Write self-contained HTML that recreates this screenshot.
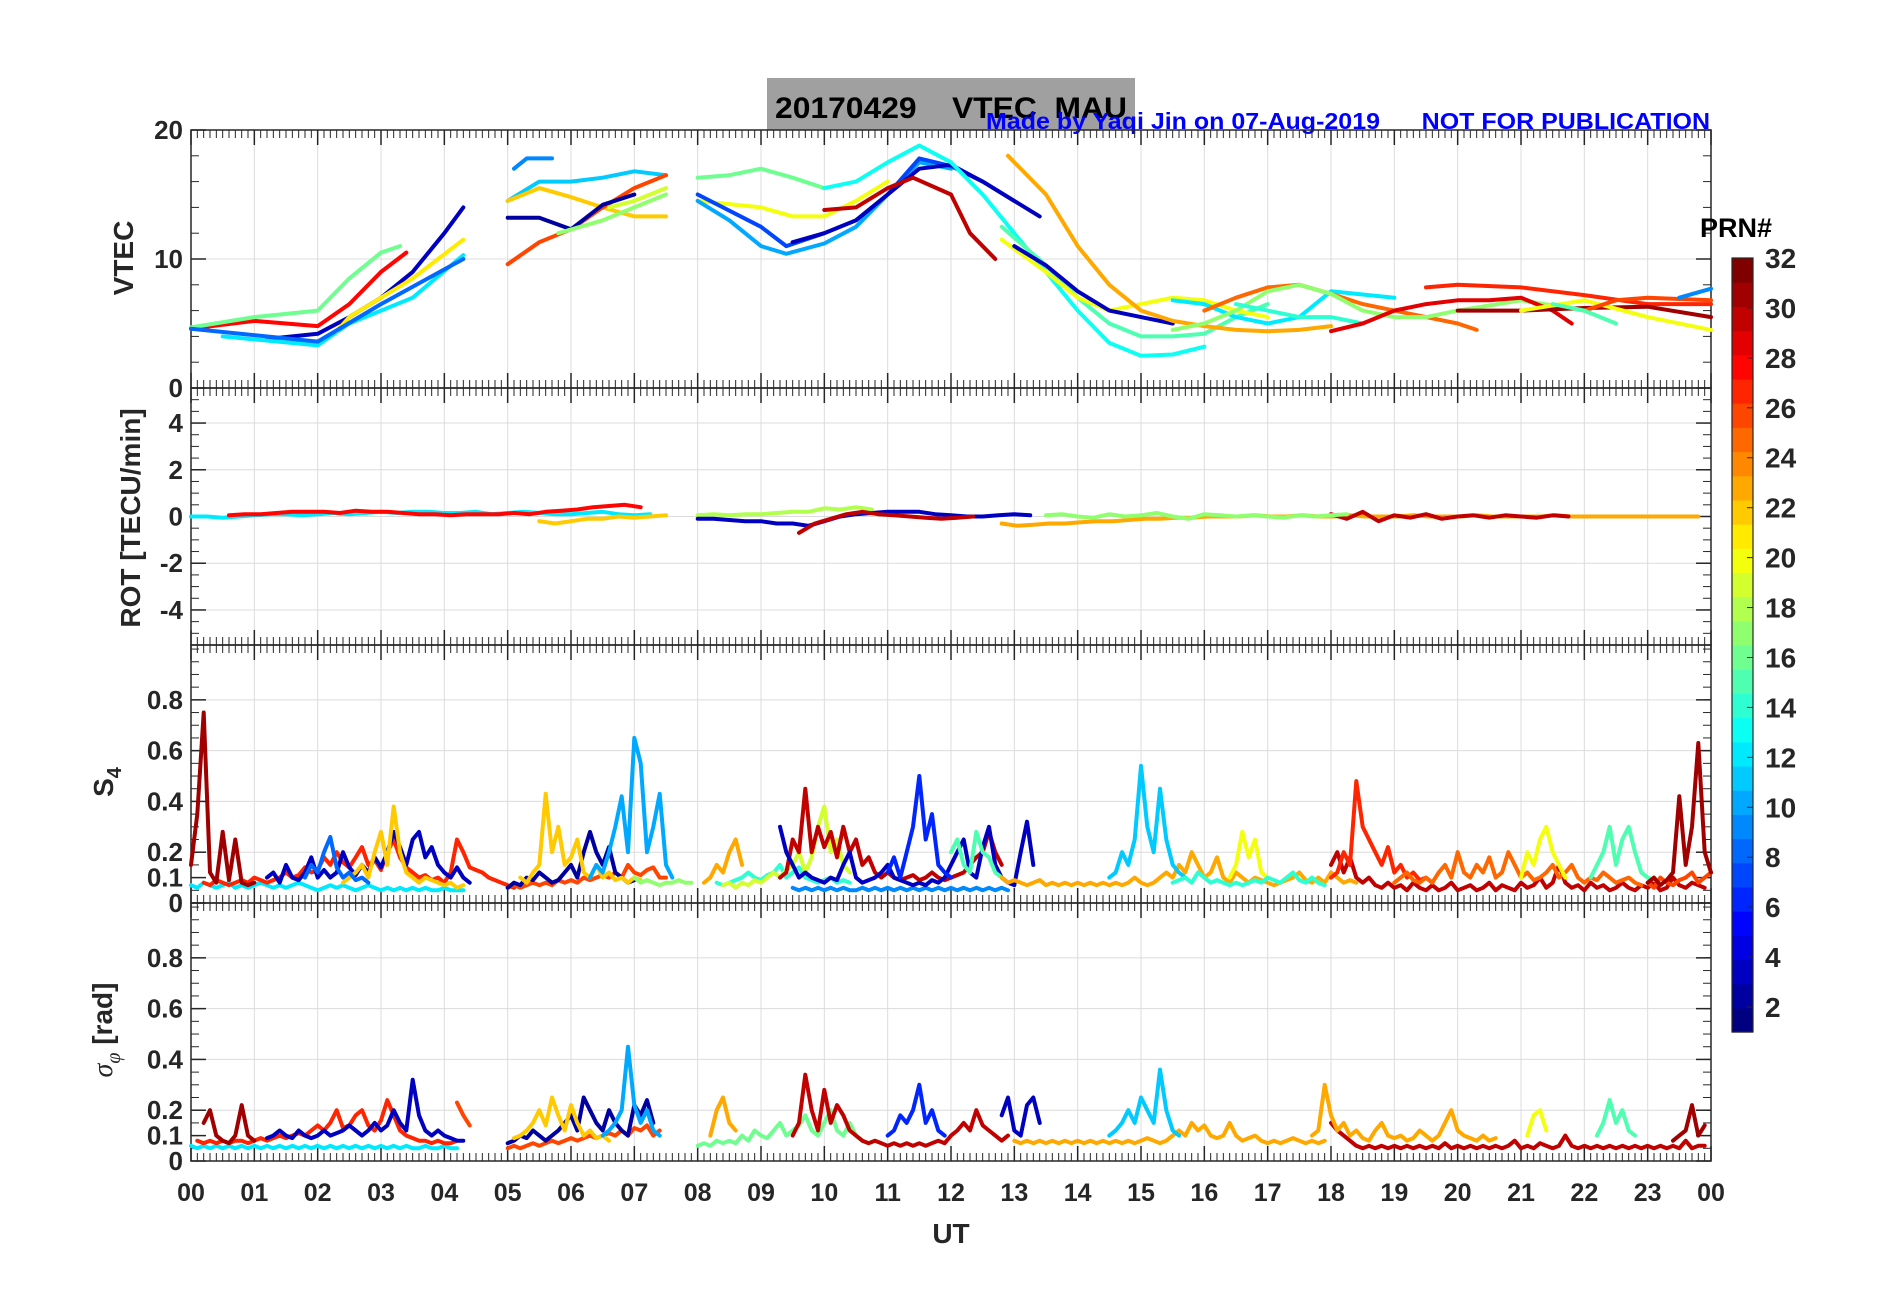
<!DOCTYPE html>
<html><head><meta charset="utf-8"><title>VTEC MAU 20170429</title>
<style>
html,body{margin:0;padding:0;background:#fff;}
svg{display:block;font-family:"Liberation Sans",Arial,sans-serif;}
</style></head>
<body>
<svg id="fig" width="1902" height="1292" viewBox="0 0 1902 1292" xmlns="http://www.w3.org/2000/svg">
<rect x="0" y="0" width="1902" height="1292" fill="#fff"/>
<rect x="767" y="78" width="368" height="52" fill="#a0a0a0"/>
<text x="775" y="118" font-size="30" font-weight="bold" fill="#000" textLength="352" lengthAdjust="spacingAndGlyphs" xml:space="preserve">20170429    VTEC  MAU</text>
<text x="986" y="129" font-size="23" font-weight="bold" fill="#0000ff" textLength="724" lengthAdjust="spacingAndGlyphs" xml:space="preserve">Made by Yaqi Jin on 07-Aug-2019      NOT FOR PUBLICATION</text>
<g id="plots"></g>
<g id="cbar"></g>
</svg>
<script>
// ---------- data ----------
const hourLabels = ["00","01","02","03","04","05","06","07","08","09","10","11","12","13","14","15","16","17","18","19","20","21","22","23","00"];
const vtecTicks = [0,10,20];
const rotTicks = [-4,-2,0,2,4];
const s4Ticks = [0,0.1,0.2,0.4,0.6,0.8];
const cbarTicks = [2,4,6,8,10,12,14,16,18,20,22,24,26,28,30,32];

// VTEC series: [prn, [t, value, t, value, ...]]
const vtecPrn = [28,16,3,12,21,8, 9,11,22,26,2,17,19, 16,20,10,7,3,30,13,15,20,3,23,12,25,17,14,29,27,31,20,26,15,9];
const vtecVals = [
 [0,4.6,1,5.2,2,4.8,2.5,6.5,3,9,3.4,10.5],
 [0,4.7,1,5.5,2,6,2.5,8.5,3,10.5,3.3,11],
 [1.2,3.8,2,4.2,2.5,5.5,3,7,3.5,9,4,12,4.3,14],
 [0.5,4,2,3.3,2.5,5,3,6,3.5,7,4.3,10.3],
 [2.3,4.4,2.5,5.5,3,7,3.5,8.5,4.3,11.5],
 [0,4.6,2,3.6,3,6.5,4.3,10],
 [5.1,17,5.3,17.8,5.7,17.8],
 [5,14.5,5.5,16,6,16,6.5,16.3,7,16.8,7.5,16.5],
 [5,14.5,5.5,15.5,6,14.8,6.5,14,7,13.3,7.5,13.3],
 [5,9.6,5.5,11.3,6,12.3,6.5,14,7,15.5,7.5,16.5],
 [5,13.2,5.5,13.2,6,12.3,6.5,14.2,7,15],
 [5.8,12,6.5,13,7,14,7.5,15],
 [6.6,14,7,14.5,7.5,15.5],
 [8,16.3,8.5,16.5,9,17,9.5,16.3,10,15.5],
 [8,14.5,9,14,9.5,13.3,10,13.3,10.5,14.5,11,16],
 [8,14.5,8.5,13,9,11,9.4,10.4,10,11.2,10.5,12.5,11,15,11.5,17.5,12,17],
 [8,15,9,12.5,9.4,11,10,12,10.5,13,11,15,11.5,17.8,12,17.2,12.5,16,13,14.5],
 [9.5,11.3,10,12,10.5,13,11,15,11.5,17,12,17.3,12.5,16,13,14.5,13.4,13.3],
 [10,13.8,10.5,14,11,15.5,11.4,16.3,12,15,12.3,12,12.7,10],
 [10,15.5,10.5,16,11,17.5,11.5,18.8,12,17.5,12.5,15,13,12,13.5,9,14,6,14.5,3.5,15,2.5,15.5,2.6,16,3.2],
 [12.8,12.5,13.5,9.5,14,7,14.5,5,15,4,15.5,4,16,4.2,16.5,5.5,17,6.5],
 [12.8,11.5,13.5,9,14,7,14.5,6,15,6.5,15.5,7,16,6.8,16.5,6,17,5.5],
 [13,11,13.5,9.5,14,7.5,14.5,6,15,5.5,15.5,5],
 [12.9,18,13.5,15,14,11,14.5,8,15,6,15.5,5.2,16,4.8,16.5,4.5,17,4.4,17.5,4.5,18,4.8],
 [15.5,6.8,16,6.5,16.5,5.5,17,5,17.5,5.5,18,7.5,19,7],
 [16,6,16.5,7,17,7.8,17.5,8,18,7.3,18.5,6.5,19,6,19.5,5.5,20,5,20.3,4.5],
 [15.5,4.5,16,5,16.5,6,17,7.5,17.5,8,18,7.3,18.5,6,19,5.5,19.5,5.5,20,6,21,6.8,22,6],
 [16.5,6.5,17,6,17.5,5.5,18,5.5,18.5,5],
 [18,4.4,18.5,5,19,6,19.5,6.5,20,6.8,20.5,6.8,21,7,21.5,6,21.8,5],
 [19.5,7.8,20,8,21,7.8,22,7.2,23,6.5,24,6.5],
 [20,6,21,6,22,6.2,23,6.3,24,5.5],
 [21,6,22,6.8,23,5.5,24,4.5],
 [22,6,22.5,6.8,23,7,24,6.8],
 [21.5,6.5,22,6,22.5,5],
 [23.5,7,24,7.7]
];

// ROT series: prn, start time, values every 0.25 h
const rotPrn = [12,28,22,18,3,30,23,30,17];
const rotT0 = [0,0.6,5.5,8,8,9.6,12.8,18,13.5];
const rotVals = [
 [0,0,-0.05,0,0.05,0.1,0.1,0.05,0.1,0.15,0.1,0.15,0.2,0.15,0.2,0.2,0.15,0.15,0.2,0.1,0.15,0.2,0.15,0.1,0.1,0.15,0.2,0.1,0.05,0.1],
 [0.05,0.1,0.1,0.15,0.2,0.2,0.2,0.15,0.25,0.2,0.2,0.15,0.1,0.1,0.05,0.1,0.1,0.1,0.15,0.1,0.2,0.25,0.3,0.4,0.45,0.5,0.4],
 [-0.2,-0.3,-0.2,-0.1,-0.1,0,-0.05,0,0.05],
 [0.05,0.1,0.05,0.1,0.1,0.15,0.2,0.2,0.35,0.3,0.4,0.3],
 [-0.1,-0.1,-0.15,-0.2,-0.2,-0.3,-0.3,-0.4,-0.2,0,0.1,0.15,0.2,0.2,0.2,0.1,0.05,0,0,0.05,0.1,0.05],
 [-0.7,-0.3,-0.1,0.1,0.2,0.1,0.05,0,-0.05,-0.1,-0.05,0],
 [-0.3,-0.4,-0.35,-0.3,-0.3,-0.25,-0.2,-0.2,-0.15,-0.1,-0.1,-0.05,-0.05,0,0,0,0.05,0,0,0.05,0,0,0.05,0,0,0,0.05,0,0,0,0.05,0,0,0,0,0.05,0,0,0,0,0,0,0,0,0],
 [0.1,-0.1,0.2,-0.2,0.05,-0.05,0.1,-0.1,0,0.05,-0.05,0.05,0,-0.05,0.05,0],
 [0.05,0.1,0,-0.05,0.1,0,0.05,0.15,0,-0.1,0.1,0.05,0,0.05,0,-0.05,0.05,0,0.05,0.1]
];

// S4 series: prn, start time, values every 0.1 h
const s4Prn = [12,27,3,22,8,31, 26,2,22,10,17, 9,14,19,23,30,3,6,15, 23,11,20,14, 30,27,25,20,15,26,31];
const s4T0 = [0,0.2,1.2,2.4,1.8,0, 5.0,5.0,5.2,6.3,7.0, 9.5,8.3,8.4,8.1,9.3,9.3,11.0,12.0, 12.8,14.5,16.4,15.5, 18.0,18.0,19.0,21.0,22.1,23.0,23.0];
const s4Vals = [
 [0.07,0.06,0.08,0.07,0.06,0.07,0.08,0.06,0.07,0.06,0.07,0.08,0.07,0.06,0.07,0.06,0.07,0.08,0.07,0.06,0.05,0.06,0.07,0.06,0.07,0.06,0.05,0.06,0.07,0.06,0.05,0.06,0.05,0.06,0.05,0.06,0.05,0.06,0.05,0.05,0.06,0.05,0.05,0.05],
 [0.08,0.07,0.09,0.08,0.07,0.08,0.09,0.08,0.1,0.09,0.08,0.09,0.1,0.12,0.1,0.11,0.14,0.12,0.13,0.18,0.15,0.2,0.16,0.14,0.18,0.22,0.15,0.17,0.13,0.2,0.25,0.18,0.14,0.12,0.1,0.11,0.09,0.1,0.08,0.12,0.25,0.2,0.14,0.13,0.12,0.1,0.09,0.08,0.07,0.06],
 [0.1,0.12,0.08,0.15,0.1,0.09,0.12,0.18,0.1,0.13,0.1,0.12,0.2,0.14,0.11,0.15,0.12,0.18,0.14,0.2,0.28,0.22,0.15,0.25,0.28,0.18,0.22,0.15,0.12,0.1,0.14,0.1,0.08],
 [0.08,0.1,0.12,0.15,0.1,0.2,0.28,0.15,0.38,0.2,0.12,0.1,0.08,0.1,0.09,0.08,0.07,0.08,0.06,0.07],
 [0.1,0.15,0.12,0.2,0.26,0.14,0.1,0.12,0.09,0.1,0.08],
 [0.15,0.35,0.75,0.12,0.08,0.28,0.09,0.25,0.08,0.07,0.08],
 [0.06,0.07,0.06,0.07,0.08,0.07,0.08,0.07,0.09,0.08,0.09,0.08,0.1,0.09,0.1,0.11,0.1,0.12,0.1,0.15,0.12,0.11,0.13,0.14,0.1,0.1],
 [0.06,0.08,0.07,0.1,0.09,0.12,0.1,0.08,0.09,0.12,0.15,0.1,0.2,0.28,0.2,0.15,0.22,0.12,0.1,0.08,0.09],
 [0.1,0.08,0.12,0.15,0.43,0.2,0.3,0.15,0.18,0.25,0.12,0.1,0.15,0.1,0.12,0.09,0.1,0.08,0.1,0.09],
 [0.1,0.15,0.12,0.2,0.3,0.42,0.2,0.65,0.55,0.2,0.3,0.43,0.15,0.1],
 [0.1,0.08,0.09,0.08,0.07,0.08,0.08,0.09,0.08,0.08],
 [0.06,0.05,0.06,0.05,0.06,0.05,0.06,0.05,0.06,0.05,0.05,0.06,0.05,0.06,0.05,0.06,0.05,0.06,0.05,0.06,0.05,0.06,0.05,0.06,0.05,0.06,0.05,0.06,0.05,0.06,0.05,0.06,0.05,0.06,0.05],
 [0.08,0.07,0.08,0.09,0.1,0.12,0.1,0.09,0.11,0.12,0.15,0.1,0.12,0.14,0.1,0.09,0.08,0.09,0.1,0.08,0.09,0.08],
 [0.07,0.08,0.06,0.08,0.07,0.09,0.08,0.1,0.12,0.1,0.13,0.15,0.2,0.12,0.18,0.3,0.38,0.2,0.25,0.15,0.12],
 [0.08,0.1,0.15,0.12,0.2,0.25,0.15],
 [0.1,0.12,0.25,0.2,0.45,0.2,0.3,0.22,0.28,0.18,0.3,0.2,0.25,0.15,0.18,0.12,0.1,0.12,0.1,0.09,0.1,0.11,0.09,0.1,0.12,0.1,0.09,0.1,0.11,0.12,0.15,0.18,0.2,0.28,0.2,0.15],
 [0.3,0.2,0.15,0.1,0.12,0.1,0.09,0.08,0.1,0.09,0.15,0.2,0.1,0.08,0.09,0.1,0.12,0.15,0.1,0.09,0.08,0.07,0.08,0.07,0.09,0.08,0.1,0.15,0.2,0.25,0.12,0.1,0.22,0.3,0.15,0.1,0.08,0.07,0.2,0.32,0.15],
 [0.12,0.18,0.1,0.2,0.3,0.5,0.25,0.35,0.15,0.12,0.1],
 [0.2,0.25,0.15,0.12,0.28,0.2,0.18,0.12,0.1],
 [0.1,0.08,0.09,0.08,0.07,0.08,0.09,0.07,0.08,0.07,0.08,0.07,0.08,0.07,0.08,0.07,0.08,0.07,0.08,0.07,0.08,0.1,0.08,0.07,0.08,0.1,0.12,0.1,0.15,0.12,0.2,0.15,0.1,0.12,0.18,0.1,0.08,0.12,0.1,0.08,0.1,0.09,0.08,0.07,0.08,0.09,0.1,0.12,0.09,0.08,0.1,0.08,0.12,0.1,0.08,0.09,0.08],
 [0.1,0.12,0.2,0.15,0.25,0.54,0.3,0.2,0.45,0.25,0.15,0.12,0.1],
 [0.1,0.15,0.28,0.18,0.25,0.12,0.1],
 [0.08,0.09,0.1,0.08,0.12,0.1,0.08,0.09,0.08,0.07,0.08,0.07,0.08,0.09,0.08,0.1,0.09,0.08,0.1,0.12,0.09,0.08,0.1,0.08,0.07],
 [0.15,0.2,0.12,0.18,0.1,0.08,0.1,0.07,0.06,0.08,0.06,0.07,0.05,0.08,0.06,0.05,0.07,0.05,0.06,0.08,0.05,0.06,0.07,0.05,0.06,0.08,0.05,0.07,0.06,0.05,0.08,0.06,0.07,0.1,0.06,0.08,0.15,0.08,0.06,0.07,0.05,0.08,0.06,0.07,0.05,0.06,0.08,0.06,0.05,0.07,0.06,0.08,0.05,0.06,0.1,0.07,0.06,0.08,0.07,0.06],
 [0.1,0.12,0.2,0.15,0.48,0.3,0.25,0.2,0.15,0.22,0.12,0.15,0.1,0.12,0.09,0.1,0.08],
 [0.08,0.1,0.12,0.09,0.08,0.1,0.08,0.12,0.15,0.1,0.2,0.12,0.1,0.15,0.12,0.18,0.1,0.12,0.2,0.15,0.1,0.12,0.09,0.1,0.12,0.15,0.1,0.12,0.15,0.1,0.08,0.1,0.09,0.12,0.1,0.08,0.09,0.1,0.08,0.07],
 [0.1,0.2,0.15,0.25,0.3,0.2,0.15,0.1],
 [0.1,0.15,0.2,0.3,0.15,0.25,0.3,0.2,0.12,0.1,0.09],
 [0.08,0.06,0.1,0.08,0.07,0.09,0.1,0.12,0.08,0.1,0.12],
 [0.08,0.1,0.07,0.09,0.12,0.42,0.15,0.3,0.63,0.2,0.12]
];

// sigma-phi series: prn, start time, values every 0.1 h
const sgPrn = [12,27,3,31,26, 26,2,22,10, 16,23,30,6,3, 23,11,30,23,20,15,31];
const sgT0 = [0,0.1,1.2,0.2,4.2, 5.0,5.0,5.1,6.5, 8.0,8.2,9.5,11.0,12.8, 13.0,14.5,18.0,17.7,21.1,22.2,23.4];
const sgVals = [
 [0.06,0.05,0.06,0.05,0.06,0.05,0.06,0.05,0.06,0.05,0.06,0.05,0.06,0.05,0.06,0.05,0.06,0.05,0.06,0.05,0.06,0.05,0.06,0.05,0.06,0.05,0.06,0.05,0.06,0.05,0.06,0.05,0.06,0.05,0.06,0.05,0.05,0.06,0.05,0.05,0.06,0.05,0.05],
 [0.08,0.07,0.08,0.07,0.08,0.07,0.08,0.08,0.07,0.08,0.09,0.08,0.09,0.1,0.09,0.1,0.11,0.1,0.12,0.14,0.12,0.15,0.2,0.13,0.14,0.18,0.2,0.14,0.12,0.16,0.24,0.18,0.12,0.1,0.09,0.08,0.08,0.07,0.08,0.07,0.07,0.08],
 [0.09,0.1,0.12,0.1,0.09,0.12,0.1,0.09,0.1,0.12,0.1,0.11,0.12,0.14,0.12,0.1,0.12,0.15,0.12,0.14,0.2,0.15,0.12,0.32,0.18,0.12,0.1,0.12,0.1,0.09,0.08,0.08],
 [0.15,0.2,0.1,0.08,0.07,0.1,0.22,0.1,0.08],
 [0.23,0.18,0.14],
 [0.05,0.06,0.05,0.06,0.07,0.06,0.07,0.08,0.07,0.08,0.09,0.08,0.09,0.1,0.09,0.1,0.11,0.1,0.12,0.1,0.13,0.12,0.14,0.1,0.12],
 [0.07,0.08,0.1,0.09,0.12,0.1,0.08,0.1,0.12,0.15,0.18,0.12,0.25,0.2,0.15,0.12,0.2,0.15,0.12,0.1,0.22,0.18,0.24,0.15],
 [0.09,0.1,0.12,0.15,0.2,0.14,0.25,0.18,0.12,0.22,0.15,0.1,0.12,0.09,0.1,0.08],
 [0.1,0.12,0.15,0.2,0.45,0.22,0.15,0.2,0.12,0.1],
 [0.06,0.07,0.06,0.08,0.07,0.08,0.07,0.1,0.08,0.12,0.1,0.09,0.12,0.15,0.1,0.12,0.14,0.18,0.12,0.1,0.15,0.2,0.12,0.1,0.15,0.1,0.08,0.07,0.08,0.07],
 [0.1,0.2,0.25,0.15,0.12],
 [0.1,0.15,0.34,0.2,0.12,0.28,0.15,0.22,0.18,0.12,0.1,0.08,0.07,0.08,0.07,0.06,0.07,0.06,0.07,0.06,0.07,0.06,0.07,0.08,0.07,0.1,0.12,0.15,0.12,0.2,0.14,0.12,0.1,0.08,0.1],
 [0.1,0.12,0.18,0.15,0.2,0.3,0.15,0.2,0.12,0.1],
 [0.18,0.25,0.12,0.1,0.22,0.25,0.15],
 [0.08,0.07,0.08,0.07,0.08,0.07,0.08,0.07,0.08,0.07,0.08,0.07,0.08,0.07,0.08,0.07,0.08,0.07,0.08,0.07,0.08,0.09,0.08,0.07,0.08,0.1,0.12,0.1,0.15,0.12,0.14,0.1,0.09,0.1,0.15,0.1,0.08,0.09,0.1,0.08,0.07,0.08,0.07,0.08,0.09,0.08,0.07,0.08,0.07,0.08],
 [0.1,0.12,0.15,0.2,0.15,0.25,0.2,0.15,0.36,0.2,0.12,0.1],
 [0.15,0.12,0.1,0.08,0.06,0.05,0.06,0.05,0.06,0.05,0.06,0.05,0.06,0.05,0.06,0.05,0.06,0.05,0.07,0.05,0.06,0.05,0.06,0.05,0.06,0.05,0.06,0.05,0.06,0.08,0.05,0.06,0.05,0.07,0.06,0.05,0.06,0.1,0.06,0.05,0.06,0.05,0.06,0.05,0.06,0.05,0.06,0.05,0.06,0.05,0.06,0.05,0.06,0.05,0.06,0.05,0.08,0.05,0.06,0.06],
 [0.1,0.12,0.3,0.18,0.12,0.15,0.1,0.12,0.09,0.08,0.12,0.15,0.1,0.09,0.1,0.08,0.09,0.12,0.1,0.08,0.1,0.15,0.2,0.12,0.1,0.09,0.08,0.1,0.08,0.09],
 [0.1,0.18,0.2,0.12],
 [0.1,0.15,0.24,0.15,0.2,0.12,0.1],
 [0.08,0.1,0.12,0.22,0.1,0.14]
];

// ---------- layout ----------
const NS = "http://www.w3.org/2000/svg";
const L = 191, R = 1711;
const panels = [
 {name:"vtec", top:130, bot:388, min:0, max:20},
 {name:"rot", top:388, bot:645, min:-5.5, max:5.5},
 {name:"s4", top:645, bot:903, min:0, max:1.016},
 {name:"sigma", top:903, bot:1161, min:0, max:1.016}
];
function xs(t){ return L + (R-L)*t/24; }
function ys(p,v){ return p.bot - (p.bot-p.top)*(v-p.min)/(p.max-p.min); }
function jet(prn){
  const v=(prn-1)/31;
  const c=x=>Math.round(255*Math.max(0,Math.min(1,x)));
  return "rgb("+c(1.5-Math.abs(4*v-3))+","+c(1.5-Math.abs(4*v-2))+","+c(1.5-Math.abs(4*v-1))+")";
}
const root = document.getElementById("plots");
function mk(tag, parent){ const e=document.createElementNS(NS,tag); parent.appendChild(e); return e; }

panels.forEach((p,pi)=>{
  const g = mk("g", root);
  
  
  for(let h=1;h<24;h++){
    const ln=mk("line",g);
    
    
    ln.setAttribute("x1",xs(h));ln.setAttribute("x2",xs(h));ln.setAttribute("y1",p.top);ln.setAttribute("y2",p.bot);
    ln.setAttribute("stroke","#dcdcdc");ln.setAttribute("stroke-width","1");
  }
  let ticks = pi==0?vtecTicks:(pi==1?rotTicks:s4Ticks);
  ticks.forEach(v=>{
    const y=ys(p,v);
    if(!(pi>=2 && v<0.2) && v!==p.min && !(pi==0 && v==20)){
      const gl=mk("line",g);
      
      
      gl.setAttribute("x1",L);gl.setAttribute("x2",R);gl.setAttribute("y1",y);gl.setAttribute("y2",y);
      gl.setAttribute("stroke","#dcdcdc");gl.setAttribute("stroke-width","1");
    }
    const tk=mk("line",g);
    
    
    tk.setAttribute("x1",L);tk.setAttribute("x2",L+15);tk.setAttribute("y1",y);tk.setAttribute("y2",y);tk.setAttribute("stroke","#262626");tk.setAttribute("stroke-width","1.5");
    const tk2=mk("line",g);
    
    
    tk2.setAttribute("x1",R);tk2.setAttribute("x2",R-15);tk2.setAttribute("y1",y);tk2.setAttribute("y2",y);tk2.setAttribute("stroke","#262626");tk2.setAttribute("stroke-width","1.5");
    const t=mk("text",g);
    
    
    t.setAttribute("x",L-8);t.setAttribute("y",y+9);t.setAttribute("text-anchor","end");
    t.setAttribute("font-size","26");t.setAttribute("font-weight","bold");t.setAttribute("fill","#262626");
    t.textContent = String(v);
  });
  const step = pi==0?2:(pi==1?0.5:0.05);
  for(let v=p.min; v<=p.max+1e-9; v+=step){
    const y=ys(p,v);
    [[L,L+8],[R,R-8]].forEach(a=>{
      const m=mk("line",g);
      
      
      m.setAttribute("x1",a[0]);m.setAttribute("x2",a[1]);m.setAttribute("y1",y);m.setAttribute("y2",y);m.setAttribute("stroke","#262626");m.setAttribute("stroke-width","1");
    });
  }
  for(let k=0;k<=240;k++){
    const x=xs(k/10); const major=(k%10==0); const len=major?15:8;
    [[p.top,p.top+len],[p.bot,p.bot-len]].forEach(a=>{
      const m=mk("line",g);
      
      
      m.setAttribute("x1",x);m.setAttribute("x2",x);m.setAttribute("y1",a[0]);m.setAttribute("y2",a[1]);m.setAttribute("stroke","#262626");m.setAttribute("stroke-width",major?"1.5":"1");
    });
  }
  const frame=mk("rect",g);
  
  
  frame.setAttribute("x",L);frame.setAttribute("y",p.top);frame.setAttribute("width",R-L);frame.setAttribute("height",p.bot-p.top);
  frame.setAttribute("fill","none");frame.setAttribute("stroke","#262626");frame.setAttribute("stroke-width","1.5");
  p.g=g;
});

function drawLine(p, prn, pts, name){
  const pl=mk("polyline",p.g);
  
  
  pl.setAttribute("points",pts.map(q=>xs(q[0]).toFixed(1)+","+ys(p,q[1]).toFixed(1)).join(" "));
  pl.setAttribute("fill","none");pl.setAttribute("stroke",jet(prn));pl.setAttribute("stroke-width","4");
  pl.setAttribute("stroke-linejoin","round");pl.setAttribute("stroke-linecap","round");
}
vtecVals.forEach((arr,i)=>{
  const pts=[]; for(let k=0;k<arr.length;k+=2) pts.push([arr[k],arr[k+1]]);
  drawLine(panels[0], vtecPrn[i], pts, 'vtec-line-prn'+vtecPrn[i]);
});
rotVals.forEach((arr,i)=>{
  drawLine(panels[1], rotPrn[i], arr.map((v,k)=>[rotT0[i]+k*0.25, v]), 'rot-line-prn'+rotPrn[i]);
});
s4Vals.forEach((arr,i)=>{
  drawLine(panels[2], s4Prn[i], arr.map((v,k)=>[s4T0[i]+k*0.1, v]), 's4-line-prn'+s4Prn[i]);
});
sgVals.forEach((arr,i)=>{
  drawLine(panels[3], sgPrn[i], arr.map((v,k)=>[sgT0[i]+k*0.1, v]), 'sigma-line-prn'+sgPrn[i]);
});

hourLabels.forEach((lab,h)=>{
  const t=mk("text",root);
  
  
  t.setAttribute("x",xs(h));t.setAttribute("y",1201);t.setAttribute("text-anchor","middle");
  t.setAttribute("font-size","25");t.setAttribute("font-weight","bold");t.setAttribute("fill","#262626");
  t.textContent=lab;
});
const ut=mk("text",root);


ut.setAttribute("x",(L+R)/2);ut.setAttribute("y",1243);ut.setAttribute("text-anchor","middle");
ut.setAttribute("font-size","28");ut.setAttribute("font-weight","bold");ut.setAttribute("fill","#262626");
ut.textContent="UT";

function ytitle(name, txt, x, y){
  const t=mk("text",root);
  
  
  t.setAttribute("transform","translate("+x+","+y+") rotate(-90)");
  t.setAttribute("text-anchor","middle");t.setAttribute("font-size","28");t.setAttribute("font-weight","bold");t.setAttribute("fill","#262626");
  t.textContent=txt; return t;
}
ytitle('vtec-axis-title',"VTEC",133,258);
ytitle('rot-axis-title',"ROT [TECU/min]",140,518);
const s4t=ytitle('s4-axis-title',"S",113,782);
const sub=document.createElementNS(NS,"tspan"); sub.setAttribute("font-size","20"); sub.setAttribute("dy","8"); sub.textContent="4"; s4t.appendChild(sub);
const sgt=mk("text",root);


sgt.setAttribute("transform","translate(112,1030) rotate(-90)");
sgt.setAttribute("text-anchor","middle");sgt.setAttribute("font-size","28");sgt.setAttribute("fill","#262626");
sgt.innerHTML='<tspan font-family="Liberation Serif" font-style="italic">σ</tspan><tspan font-size="20" dy="8" font-family="Liberation Serif" font-style="italic">φ</tspan><tspan dy="-8" font-weight="bold"> [rad]</tspan>';

const cb=document.getElementById("cbar");
const CT=258, CB=1032, CX=1732, CW=21;
for(let k=1;k<=32;k++){
  const r=mk("rect",cb);
  
  
  const y0=CB-(CB-CT)*(k)/32;
  r.setAttribute("x",CX);r.setAttribute("y",y0.toFixed(2));r.setAttribute("width",CW);r.setAttribute("height",((CB-CT)/32+0.6).toFixed(2));
  r.setAttribute("fill",jet(k));
}
const cf=mk("rect",cb);


cf.setAttribute("x",CX);cf.setAttribute("y",CT);cf.setAttribute("width",CW);cf.setAttribute("height",CB-CT);cf.setAttribute("fill","none");cf.setAttribute("stroke","#262626");cf.setAttribute("stroke-width","1.2");
function cbY(v){ return CB-(CB-CT)*(v-1)/31; }
cbarTicks.forEach(v=>{
  const y=cbY(v);
  const tk=mk("line",cb);
  
  
  tk.setAttribute("x1",CX+CW-6);tk.setAttribute("x2",CX+CW);tk.setAttribute("y1",y);tk.setAttribute("y2",y);tk.setAttribute("stroke","#262626");
  const t=mk("text",cb);
  
  
  t.setAttribute("x",CX+CW+12);t.setAttribute("y",y+10);t.setAttribute("font-size","28");t.setAttribute("font-weight","bold");t.setAttribute("fill","#262626");
  t.textContent=String(v);
});
const pt=mk("text",cb);


pt.setAttribute("x",1700);pt.setAttribute("y",237);pt.setAttribute("font-size","27");pt.setAttribute("font-weight","bold");pt.setAttribute("fill","#000");
pt.textContent="PRN#";
</script>
</body></html>
